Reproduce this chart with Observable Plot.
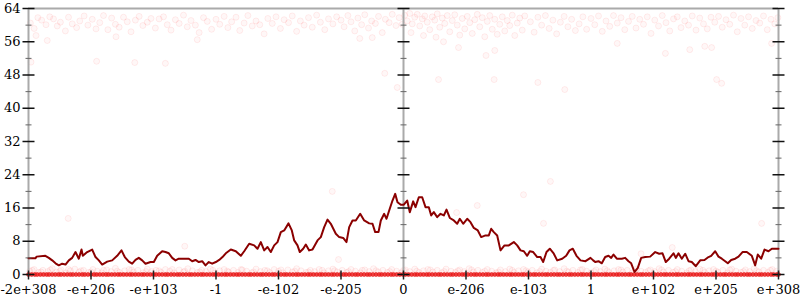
<!DOCTYPE html>
<html>
<head>
<meta charset="utf-8">
<script src="https://cdn.jsdelivr.net/npm/d3@7"></script>
<script src="https://cdn.jsdelivr.net/npm/@observablehq/plot@0.6"></script>
<style>
  html, body { margin: 0; padding: 0; background: #fff; }
  #chart { width: 800px; height: 300px; }
</style>
</head>
<body>
<div id="chart"></div>
<script>
// x positions are tick-index units (0 … 120), 10 units per labelled tick
const xTicks = [0, 10, 20, 30, 40, 50, 60, 70, 80, 90, 100, 110, 120];
const xLabels = ["-2e+308", "-e+206", "-e+103", "-1", "-e-102", "-e-205", "0",
                 "e-206", "e-103", "1", "e+102", "e+205", "e+308"];
const yMajor = [0, 8, 16, 24, 32, 40, 48, 56, 64];
const yMinor = [4, 12, 20, 28, 36, 44, 52, 60];
const axisPositions = [0, 60, 120];

// moving-average error line
const lineX = [0.0,1.1,1.3,2.7,3.25,3.79,4.32,4.85,5.39,5.92,6.45,6.99,7.52,8.05,8.48,8.69,9.39,10.19,10.72,11.25,11.79,12.59,13.39,14.19,14.88,15.41,16.05,16.59,17.12,17.65,18.19,18.72,19.52,20.05,20.59,21.39,21.92,22.45,22.99,23.52,24.05,24.85,25.65,26.19,26.72,27.25,27.79,28.32,28.85,29.39,
29.97,30.51,31.04,31.57,32.37,33.17,33.97,34.51,35.31,36.11,36.64,37.17,37.71,38.24,38.77,39.31,39.84,40.37,40.91,41.60,42.13,42.51,43.04,43.41,43.95,44.37,44.91,45.44,46.24,46.77,47.31,47.84,48.37,49.17,49.71,50.35,50.88,51.31,51.84,52.37,53.07,53.71,54.51,55.04,55.47,56.00,56.37,56.91,57.28,57.71,58.24,58.67,59.04,59.57,
60.05,60.59,61.01,61.55,61.92,62.45,62.99,63.52,64.05,64.43,64.85,65.39,65.92,66.45,66.88,67.41,68.05,68.59,69.01,69.55,70.19,70.72,71.25,71.89,72.43,73.12,73.65,74.03,74.45,74.99,75.52,76.16,76.85,77.65,78.19,78.72,79.25,79.79,80.21,80.75,81.39,81.92,82.35,82.88,83.41,84.05,84.59,85.39,86.03,86.56,87.09,87.68,88.32,89.12,89.92,
90.35,90.67,91.2,91.73,92.27,92.8,93.23,93.6,94.13,94.93,95.47,96.0,96.43,96.96,97.49,98.03,98.67,99.47,100.27,100.91,101.44,101.97,102.51,103.2,103.57,104.0,104.53,105.07,105.6,106.13,106.77,107.47,108.16,108.8,109.23,109.87,110.4,110.93,111.47,111.89,112.43,113.07,113.6,114.24,114.93,115.73,116.27,116.69,117.23,117.76,118.4,118.93,119.47,120.0];
const lineY = [3.9,3.9,4.3,4.5,4.0,3.4,2.7,2.2,2.6,2.4,3.4,4.0,5.4,3.8,6.0,4.5,5.4,6.0,4.2,3.4,2.4,3.1,3.4,4.5,5.8,4.2,3.1,2.6,3.5,4.0,3.4,2.6,3.0,3.0,4.5,5.6,5.4,5.1,4.0,3.4,3.8,3.8,3.8,3.2,3.5,3.0,3.2,2.2,3.0,2.6,
3.0,3.5,4.2,5.1,6.0,5.6,4.5,5.6,7.4,7.0,6.2,7.8,5.8,6.6,5.4,7.0,7.8,10.2,10.6,12.3,10.6,8.2,7.0,5.4,6.2,7.2,5.8,6.0,8.2,9.0,11.4,13.2,12.2,9.8,9.0,8.8,7.8,11.4,13.0,13.0,14.6,13.0,12.3,12.2,10.2,10.2,13.0,14.6,13.4,15.4,17.8,19.4,17.4,16.8,
16.8,17.8,15.0,17.6,16.2,18.6,18.6,16.2,16.2,14.2,15.0,13.8,14.6,14.2,15.6,13.6,13.0,12.2,13.4,12.2,13.4,12.6,11.2,10.6,9.0,9.4,9.4,11.0,10.2,9.4,5.8,7.0,7.0,7.8,7.0,5.8,5.6,4.5,5.6,5.4,4.2,4.2,3.0,5.4,6.2,5.0,3.4,3.8,4.5,5.8,6.2,4.5,3.4,3.2,4.0,
3.4,3.0,3.2,2.7,4.2,4.5,4.0,4.8,3.8,3.8,4.0,3.2,2.7,0.6,1.6,4.0,4.2,4.3,5.4,5.0,5.1,3.0,3.8,5.1,4.0,5.1,3.8,5.0,3.2,3.0,2.0,3.4,3.5,4.2,4.5,5.6,4.3,3.8,3.2,2.7,3.5,3.8,4.3,5.4,5.4,4.5,2.2,4.8,3.8,6.0,5.6,6.2,6.2,6.2];

// sampled points with high error (and a few scattered ones)
const highPoints = [
[0.3,60.5],[0.9,59.2],[1.5,61.8],[2.1,61.2],[2.8,60.1],[3.4,62.0],[4.0,61.5],[4.6,59.8],[5.1,60.7],[5.9,58.6],[6.4,61.9],[7.0,60.3],[7.7,59.4],[8.2,61.0],[8.9,62.2],[9.5,60.0],[1.2,57.5],[3.0,56.3],[0.4,51.1],
[10.2,61.4],[10.8,59.1],[11.4,60.6],[12.0,62.3],[12.7,58.9],[13.3,61.7],[13.9,60.2],[14.5,59.5],[15.2,61.9],[15.8,60.8],[16.4,58.4],[17.1,61.2],[17.7,62.1],[18.3,59.9],[19.0,60.7],[19.6,61.6],[10.9,51.3],[17.0,51.0],[14.0,57.2],
[20.3,59.3],[20.9,61.5],[21.6,62.0],[22.2,60.1],[22.8,58.8],[23.5,61.3],[24.1,60.4],[24.8,62.4],[25.4,59.6],[26.0,61.1],[26.7,60.0],[27.3,58.2],[28.0,61.8],[28.6,60.9],[29.3,59.0],[21.9,50.8],[27.0,56.5],
[30.0,61.4],[30.6,60.2],[31.3,62.1],[31.9,59.4],[32.5,60.8],[33.2,61.9],[33.8,58.7],[34.5,60.5],[35.1,62.3],[35.8,59.8],[36.4,61.0],[37.0,60.1],[37.7,57.9],[38.3,61.6],[39.0,60.4],[39.6,62.0],
[40.3,59.2],[40.9,61.3],[41.6,60.6],[42.2,62.2],[42.9,58.5],[43.5,61.0],[44.1,60.0],[44.8,61.8],[45.4,59.5],[46.1,62.4],[46.7,60.7],[47.4,58.9],[48.0,61.5],[48.7,60.3],[49.3,62.0],[48.6,20.0],
[50.0,61.2],[50.5,59.6],[51.1,62.3],[51.6,60.8],[52.2,58.6],[52.7,61.7],[53.3,60.1],[53.8,62.5],[54.4,59.3],[54.9,61.0],[55.5,60.4],[56.0,62.1],[56.6,58.2],[57.1,61.4],[57.7,60.6],[58.2,62.6],[58.8,59.9],[59.3,61.8],[59.8,60.2],[57.0,48.4],[59.0,45.0],[55.0,57.0],[53.0,56.8],
[60.2,62.4],[60.6,61.0],[61.0,62.8],[61.4,60.3],[61.8,61.9],[62.2,62.6],[62.6,59.8],[63.0,61.5],[63.4,62.2],[63.8,60.7],[64.2,58.9],[64.6,62.0],[65.0,61.2],[65.4,62.7],[65.8,59.5],[66.2,61.7],[66.6,60.4],[67.0,62.3],[67.4,58.4],[67.8,61.1],[68.2,62.5],[68.6,60.0],[69.0,57.6],[69.4,61.6],[69.8,59.1],[61.2,58.2],[63.2,57.5],[65.2,57.1],[66.4,56.0],[68.8,54.6],[65.6,46.9],[68.5,14.9],
[70.2,62.1],[70.6,60.6],[71.0,58.0],[71.4,61.3],[71.8,62.6],[72.2,59.6],[72.6,61.8],[73.0,57.2],[73.4,60.9],[73.8,62.3],[74.2,59.0],[74.6,61.4],[75.0,57.8],[75.4,60.2],[75.8,62.0],[76.2,58.6],[76.6,61.1],[77.0,59.9],[77.4,62.4],[77.8,57.5],[78.2,60.5],[78.6,61.7],[79.0,58.8],[79.4,62.2],[74.6,53.9],[73.2,52.7],[74.5,46.9],[71.8,16.6],[79.2,19.2],
[80.3,60.8],[80.9,58.3],[81.5,61.9],[82.1,60.0],[82.7,62.3],[83.3,59.2],[83.9,61.2],[84.5,57.9],[85.1,60.7],[85.7,62.1],[86.3,59.6],[86.9,61.4],[87.5,58.7],[88.1,60.3],[88.7,62.0],[89.3,59.0],[81.5,46.2],[85.8,44.5],[83.5,22.4],[82.4,12.3],
[90.0,61.6],[90.6,60.1],[91.2,62.2],[91.8,58.5],[92.4,61.0],[93.0,59.7],[93.6,62.3],[94.2,60.5],[94.8,61.8],[95.4,58.9],[96.0,60.9],[96.6,62.1],[97.2,59.3],[97.8,61.4],[98.4,60.2],[99.0,62.0],[99.6,58.0],[94.2,55.6],[98.0,5.0],
[100.2,61.2],[100.8,59.8],[101.4,62.3],[102.0,60.6],[102.6,58.6],[103.2,61.5],[103.8,62.0],[104.4,59.4],[105.0,61.0],[105.6,60.0],[106.2,62.2],[106.8,58.8],[107.4,61.7],[108.0,60.3],[108.6,59.1],[109.2,61.9],[109.8,60.7],[101.9,53.2],[105.8,54.1],[108.2,54.9],[109.3,54.6],[110.1,46.9],[103.0,6.5],
[110.4,62.1],[111.0,59.5],[111.6,61.3],[112.2,60.2],[112.8,62.4],[113.4,58.4],[114.0,61.6],[114.6,60.0],[115.2,62.0],[115.8,59.2],[116.4,61.1],[117.0,60.5],[117.6,62.2],[118.2,58.9],[118.8,61.4],[119.4,60.3],[119.9,61.8],[110.9,46.0],[118.9,55.6],[117.3,12.3],
[6.35,13.5],[25.0,6.8],[49.6,3.6]];

// sampled points with low (but non-zero) error
const lowPoints = [
[0.2,0.8],[0.9,1.2],[1.6,0.5],[2.3,1.0],[3.1,0.7],[3.8,1.4],[4.5,0.6],[5.2,1.1],[6.0,0.4],[6.7,0.9],[7.4,1.3],[8.1,0.6],[8.8,1.0],[9.6,0.5],[10.3,1.2],[11.0,0.8],[11.7,0.4],[12.5,1.1],[13.2,0.7],[13.9,1.5],[14.6,0.5],[15.4,0.9],[16.1,1.2],[16.8,0.6],[17.5,1.0],[18.3,0.4],[19.0,1.3],[19.7,0.7],[20.4,1.0],[21.2,0.5],[21.9,1.2],[22.6,0.8],[23.3,0.4],[24.1,1.1],[24.8,0.6],[25.5,1.4],[26.2,0.9],[27.0,0.5],[27.7,1.0],[28.4,0.7],[29.1,1.3],[29.9,0.4],
[30.6,0.9],[31.3,1.2],[32.0,0.6],[32.8,1.0],[33.5,0.5],[34.2,1.1],[34.9,0.8],[35.7,0.4],[36.4,1.3],[37.1,0.7],[37.8,1.0],[38.6,0.5],[39.3,1.2],[40.0,0.8],[40.7,0.4],[41.5,1.1],[42.2,0.6],[42.9,1.4],[43.6,0.9],[44.4,0.5],[45.1,1.0],[45.8,0.7],[46.5,1.2],[47.3,0.4],[48.0,0.9],[48.7,1.3],[49.4,0.6],[50.2,1.0],[50.9,0.5],[51.6,1.2],[52.3,0.8],[53.1,0.4],[53.8,1.1],[54.5,0.7],[55.2,1.4],[56.0,0.6],[56.7,1.0],[57.4,0.5],[58.1,1.2],[58.9,0.8],[59.6,0.4],
[60.3,1.1],[61.0,0.7],[61.8,1.3],[62.5,0.5],[63.2,0.9],[63.9,1.2],[64.7,0.6],[65.4,1.0],[66.1,0.4],[66.8,1.3],[67.6,0.8],[68.3,0.5],[69.0,1.1],[69.7,0.7],[70.5,1.4],[71.2,0.6],[71.9,1.0],[72.6,0.5],[73.4,1.2],[74.1,0.8],[74.8,0.4],[75.5,1.1],[76.3,0.7],[77.0,1.3],[77.7,0.5],[78.4,0.9],[79.2,1.2],[79.9,0.6],[80.6,1.0],[81.3,0.4],[82.1,1.3],[82.8,0.8],[83.5,0.5],[84.2,1.1],[85.0,0.7],[85.7,1.4],[86.4,0.6],[87.1,1.0],[87.9,0.5],[88.6,1.2],[89.3,0.8],
[90.0,0.4],[90.8,1.1],[91.5,0.7],[92.2,1.3],[92.9,0.5],[93.7,0.9],[94.4,1.2],[95.1,0.6],[95.8,1.0],[96.6,0.4],[97.3,1.3],[98.0,0.8],[98.7,0.5],[99.5,1.1],[100.2,0.7],[100.9,1.4],[101.6,0.6],[102.4,1.0],[103.1,0.5],[103.8,1.2],[104.5,0.8],[105.3,0.4],[106.0,1.1],[106.7,0.7],[107.4,1.3],[108.2,0.5],[108.9,0.9],[109.6,1.2],[110.3,0.6],[111.1,1.0],[111.8,0.4],[112.5,1.3],[113.2,0.8],[114.0,0.5],[114.7,1.1],[115.4,0.7],[116.1,1.4],[116.9,0.6],[117.6,1.0],[118.3,0.5],[119.0,1.2],[119.7,0.8],
[0.6,1.0],[2.0,0.6],[3.5,1.1],[5.0,0.8],[6.4,1.2],[8.4,0.9],[10.0,0.6],[12.0,1.0],[14.2,0.8],[16.5,1.1],[18.8,0.7],[20.9,0.9],[23.0,1.2],[25.0,0.8],[27.4,0.6],[29.5,1.0],[31.8,0.8],[34.0,1.2],[36.0,0.6],[38.2,0.9],[40.4,1.1],[42.6,0.8],[44.8,0.6],[47.0,1.0],[49.0,0.9],[51.2,0.7],[53.4,1.0],[55.6,0.9],[57.8,0.7],[60.0,1.0],[62.1,0.8],[64.3,1.1],[66.5,0.7],[68.7,0.9],[70.9,1.1],[73.0,0.8],[75.2,0.6],[77.4,1.0],[79.6,0.9],[81.8,0.7],[84.0,1.0],[86.1,0.8],[88.3,1.1],[90.5,0.7],[92.6,0.9],[94.8,1.1],[97.0,0.6],[99.2,0.9],[101.3,1.1],[103.5,0.7],[105.7,0.9],[107.9,1.0],[110.0,0.8],[112.2,1.1],[114.4,0.7],[116.5,0.9],[118.7,1.0]];

// sampled points with zero error
const zeroX = [0.0,0.5,1.0,1.4,1.9,2.4,2.9,3.3,3.8,4.3,4.8,5.2,5.7,6.2,6.7,7.1,7.6,8.1,8.6,9.0,9.5,10.0,10.5,10.9,11.4,11.9,12.4,12.8,13.3,13.8,14.3,14.7,15.2,15.7,16.2,16.6,17.1,17.6,18.1,18.5,19.0,19.5,20.0,20.4,20.9,21.4,21.9,22.3,22.8,23.3,23.8,24.2,24.7,25.2,25.7,26.1,26.6,27.1,27.6,28.0,28.5,29.0,29.5,29.9,30.4,30.9,31.4,31.8,32.3,32.8,33.3,33.7,34.2,34.7,35.2,35.6,36.1,36.6,37.1,37.5,38.0,38.5,39.0,39.4,39.9,40.4,40.9,41.3,41.8,42.3,42.8,43.2,43.7,44.2,44.7,45.1,45.6,46.1,46.6,47.0,47.5,48.0,48.5,48.9,49.4,49.9,50.4,50.8,51.3,51.8,52.3,52.7,53.2,53.7,54.2,54.6,55.1,55.6,56.1,56.5,57.0,57.5,58.0,58.4,58.9,59.4,59.9,60.3,60.8,61.3,61.8,62.2,62.7,63.2,63.7,64.1,64.6,65.1,65.6,66.0,66.5,67.0,67.5,67.9,68.4,68.9,69.4,69.8,70.3,70.8,71.3,71.7,72.2,72.7,73.2,73.6,74.1,74.6,75.1,75.5,76.0,76.5,77.0,77.4,77.9,78.4,78.9,79.3,79.8,80.3,80.8,81.2,81.7,82.2,82.7,83.1,83.6,84.1,84.6,85.0,85.5,86.0,86.5,86.9,87.4,87.9,88.4,88.8,89.3,89.8,90.3,90.7,91.2,91.7,92.2,92.6,93.1,93.6,94.1,94.5,95.0,95.5,96.0,96.4,96.9,97.4,97.9,98.3,98.8,99.3,99.8,100.2,100.7,101.2,101.7,102.1,102.6,103.1,103.6,104.0,104.5,105.0,105.5,105.9,106.4,106.9,107.4,107.8,108.3,108.8,109.3,109.7,110.2,110.7,111.2,111.6,112.1,112.6,113.1,113.5,114.0,114.5,115.0,115.4,115.9,116.4,116.9,117.3,117.8,118.3,118.8,119.2,119.7,120.0];

// ---- build tables ----
const lineData = lineX.map((x, i) => ({x, y: lineY[i]}));
const ptData = highPoints.concat(lowPoints).map(([x, y]) => ({x, y}));
const zeroData = zeroX.map(x => ({x, y: 0}));
const majorTickData = axisPositions.flatMap(x => yMajor.map(y => ({x, y})));
const minorTickData = axisPositions.flatMap(x => yMinor.map(y => ({x, y})));
const xTickData = xTicks.map(x => ({x, y: 0}));

// custom tick-mark symbols
const hMajor = {draw(c) { c.moveTo(-6, 0); c.lineTo(6, 0); }};
const hMinor = {draw(c) { c.moveTo(-3, 0); c.lineTo(3, 0); }};
const vTick = {draw(c) { c.moveTo(0, -4); c.lineTo(0, 5); }};

const chart = Plot.plot({
  width: 800,
  height: 300,
  marginLeft: 28,
  marginRight: 22,
  marginTop: 8,
  marginBottom: 26,
  x: {domain: [0, 120], label: null},
  y: {domain: [0, 64], label: null},
  style: {fontFamily: "DejaVu Serif", fontSize: "13px", background: "white", color: "black"},
  marks: [
    Plot.dot(ptData, {x: "x", y: "y", r: 3, fill: "red", fillOpacity: 0.03, stroke: "red", strokeOpacity: 0.07, strokeWidth: 1}),
    Plot.ruleX(axisPositions, {stroke: "#aaaaaa", strokeWidth: 2}),
    Plot.ruleY([64], {stroke: "#aaaaaa", strokeWidth: 2}),
    Plot.dot(zeroData, {x: "x", y: "y", r: 2, fill: "#e81818", fillOpacity: 0.8, stroke: "#e81818", strokeOpacity: 0.6, strokeWidth: 1}),
    Plot.line(lineData, {x: "x", y: "y", stroke: "#8b0000", strokeWidth: 2}),
    Plot.dot(minorTickData, {x: "x", y: "y", symbol: hMinor, fill: "none", stroke: "#666", strokeWidth: 1}),
    Plot.dot(majorTickData, {x: "x", y: "y", symbol: hMajor, fill: "none", stroke: "#111", strokeWidth: 1.5}),
    Plot.dot(xTickData, {x: "x", y: "y", symbol: vTick, fill: "none", stroke: "#222", strokeWidth: 1.5}),
    Plot.axisY({ticks: yMajor, tickSize: 0, tickPadding: 8, tickFormat: d => String(d), fill: "black", label: null}),
    Plot.axisX({ticks: xTicks, tickSize: 0, tickPadding: 10, tickFormat: d => xLabels[xTicks.indexOf(d)], fill: "black", label: null})
  ]
});
document.getElementById("chart").appendChild(chart);
</script>
</body>
</html>
